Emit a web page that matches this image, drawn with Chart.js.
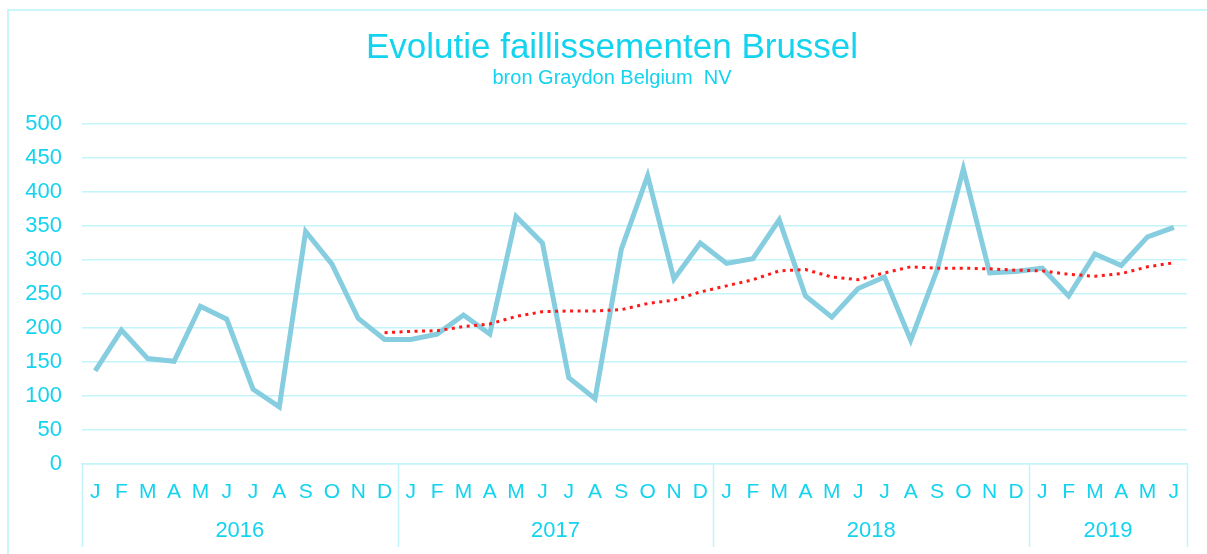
<!DOCTYPE html>
<html><head><meta charset="utf-8">
<script src="https://cdn.jsdelivr.net/npm/chart.js@4/dist/chart.umd.min.js"></script>
<style>
html,body{margin:0;padding:0;background:#fff;overflow:hidden;width:1207px;height:554px}
#frame{position:absolute;left:7px;top:9px;width:1400px;height:800px;border:2px solid #c8f6fb;box-sizing:border-box}
#c{position:absolute;left:0;top:0}
</style></head><body>
<div id="frame"></div>
<canvas id="c" width="1207" height="554"></canvas>
<script>
const monthLabels = ['J','F','M','A','M','J','J','A','S','O','N','D',
                     'J','F','M','A','M','J','J','A','S','O','N','D',
                     'J','F','M','A','M','J','J','A','S','O','N','D',
                     'J','F','M','A','M','J'];
const years = ['2016','2017','2018','2019'];
const monthsPerYear = [12,12,12,6];
const faillissementen = [137,197,155,151,232,213,110,84,342,294,214,183,
                         183,191,219,191,364,325,127,96,316,424,272,325,
                         295,302,359,247,216,258,275,182,285,434,281,283,
                         288,247,309,292,334,348];
const trend = [null,null,null,null,null,null,null,null,null,null,null,193,
               195,196,202,206,217,224,225,225,227,236,241,253,
               262,271,284,286,275,271,281,290,288,288,287,285,
               284,279,276,280,290,296];
const yMin = 0, yMax = 500, yStep = 50;
const titleText = 'Evolutie faillissementen Brussel';
const subtitleText = 'bron Graydon Belgium  NV';

const TEXT = '#14d3ee';
const GRID = '#c3f4fa';
const FONT = "'Liberation Sans', Arial, sans-serif";

const titles = {
  id: 'titles',
  afterDraw(chart) {
    const ctx = chart.ctx;
    ctx.save();
    ctx.fillStyle = TEXT;
    ctx.textAlign = 'center';
    ctx.textBaseline = 'middle';
    ctx.font = "35px " + FONT;
    ctx.fillText(titleText, 612, 48);
    ctx.font = "20px " + FONT;
    ctx.fillText(subtitleText, 612, 78);
    ctx.restore();
  }
};

const yearGroups = {
  id: 'yearGroups',
  afterDraw(chart) {
    const xs = chart.scales.x;
    const ctx = chart.ctx;
    const w = xs.getPixelForValue(1) - xs.getPixelForValue(0);
    const top = chart.chartArea.bottom;
    const bottom = 547;
    ctx.save();
    ctx.strokeStyle = GRID;
    ctx.lineWidth = 1.5;
    ctx.fillStyle = TEXT;
    ctx.font = "22px " + FONT;
    ctx.textAlign = 'center';
    ctx.textBaseline = 'middle';
    let start = 0;
    const edges = [];
    edges.push(xs.getPixelForValue(0) - w / 2);
    monthsPerYear.forEach((n, i) => {
      const end = start + n;
      const right = xs.getPixelForValue(end - 1) + w / 2;
      const left = edges[edges.length - 1];
      edges.push(right);
      ctx.fillText(years[i], (left + right) / 2, 531);
      start = end;
    });
    edges.forEach(x => {
      ctx.beginPath();
      ctx.moveTo(Math.round(x) + 0.5, top);
      ctx.lineTo(Math.round(x) + 0.5, bottom);
      ctx.stroke();
    });
    ctx.restore();
  }
};

new Chart(document.getElementById('c'), {
  type: 'line',
  data: {
    labels: monthLabels,
    datasets: [
      {
        label: 'trend',
        data: trend,
        borderColor: '#ff1a1a',
        borderWidth: 3,
        borderDash: [3, 4.5],
        pointRadius: 0,
        tension: 0,
        fill: false,
        spanGaps: false
      },
      {
        label: 'Faillissementen',
        data: faillissementen,
        borderColor: '#86cde0',
        borderWidth: 5,
        pointRadius: 0,
        tension: 0,
        fill: false,
        borderJoinStyle: 'miter'
      }
    ]
  },
  options: {
    responsive: false,
    animation: false,
    devicePixelRatio: 1,
    layout: { padding: { top: 124, left: 0, right: 20, bottom: 0 } },
    plugins: {
      legend: { display: false },
      tooltip: { enabled: false },
      title: { display: false },
      subtitle: { display: false }
    },
    scales: {
      x: {
        type: 'category',
        offset: true,
        grid: { display: false, drawTicks: false },
        border: { display: true, color: GRID, width: 1.5 },
        ticks: {
          color: TEXT,
          font: { family: FONT, size: 21 },
          padding: 16,
          maxRotation: 0,
          autoSkip: false
        },
        afterFit(scale) { scale.height = 90; }
      },
      y: {
        min: yMin,
        max: yMax,
        grid: { color: GRID, lineWidth: 1.5, drawTicks: false },
        border: { display: false },
        ticks: {
          stepSize: yStep,
          color: TEXT,
          font: { family: FONT, size: 22 },
          padding: 20
        },
        afterFit(scale) { scale.width = 82; }
      }
    }
  },
  plugins: [yearGroups, titles]
});
</script>
</body></html>
